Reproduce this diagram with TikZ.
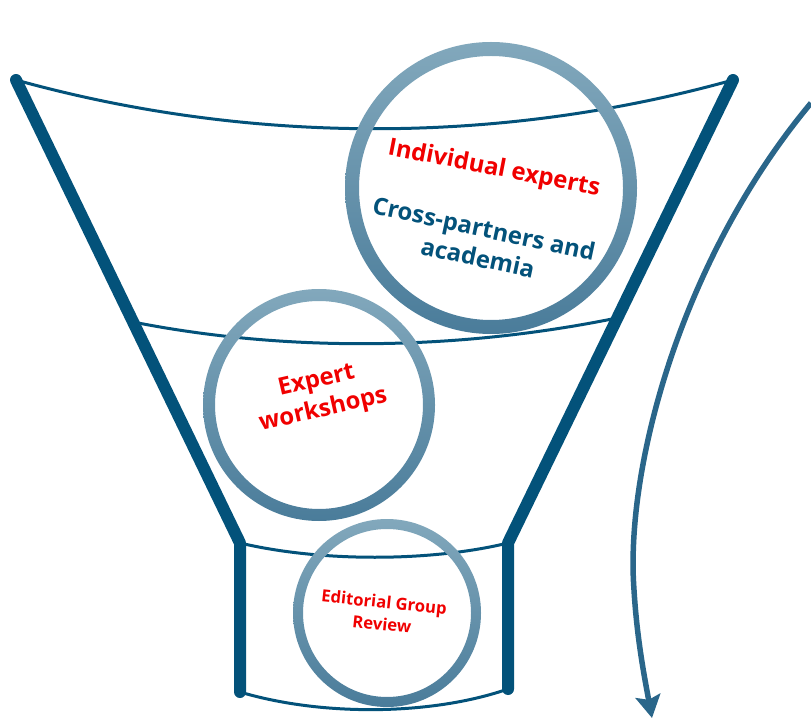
\documentclass[tikz,border=0pt]{standalone}
\usepackage{fontspec}
\setmainfont{Open Sans}
\usetikzlibrary{arrows.meta,positioning}
\definecolor{funnelblue}{HTML}{03527A}
\definecolor{ringtop}{HTML}{82A8BC}
\definecolor{ringbot}{HTML}{4A7C9A}
\definecolor{flowblue}{HTML}{2A668A}
\definecolor{stagered}{HTML}{F00000}

\begin{document}
\begin{tikzpicture}[x=0.02cm,y=-0.02cm,
wall/.style={draw=funnelblue,line width=0.24cm,line cap=round,line join=round},
rim/.style={draw=funnelblue,line width=0.06cm},
ring/.style={top color=ringtop,bottom color=ringbot,even odd rule},
stagetext/.style={font=\bfseries\fontsize{13.6}{17}\selectfont,align=center,inner sep=0pt},
flow/.style={draw=flowblue,line width=0.11cm,-{Stealth[length=0.45cm,width=0.5cm,inset=0.08cm]}}]
\useasboundingbox (0,0) rectangle (811,719);
% funnel outline
\coordinate (TL) at (16,80);
\coordinate (TR) at (733,80);
\coordinate (NL) at (240,543);
\coordinate (NR) at (508,543);
\coordinate (BL) at (240,692);
\coordinate (BR) at (508,689);
\coordinate (ML) at (133,322);
\coordinate (MR) at (617,318);
\draw[rim] (TL) .. controls (250,145) and (500,145) .. (TR);
\draw[rim] (ML) .. controls (290,353) and (460,350) .. (MR);
\draw[rim] (NL) .. controls (320,562) and (430,562) .. (NR);
\draw[rim] (BL) .. controls (320,716) and (430,716) .. (BR);
\draw[wall] (TL)--(NL)--(BL);
\draw[wall] (TR)--(NR)--(BR);
% stages
\coordinate (C1) at (491,188);
\coordinate (C2) at (319,405);
\coordinate (C3) at (387,613);
\path[ring] (C1) circle (146) (C1) circle (132);
\path[ring] (C2) circle (116) (C2) circle (104);
\path[ring] (C3) circle (94) (C3) circle (84);
\node[stagetext,text=stagered,rotate=-11] (indiv) at (494,169) {Individual experts};
\node[stagetext,text=funnelblue,rotate=-12] (cross) at (481,243) {Cross-partners and\\academia};
\node[stagetext,text=stagered,rotate=13] (work) at (320,396) {Expert\\workshops};
\node[stagetext,text=stagered,rotate=-6,font=\bfseries\fontsize{9.5}{12.5}\selectfont] (review) at (383,613) {Editorial Group\\Review};
% feedback arrow
\coordinate (fstart) at (811,103);
\coordinate (fmid) at (634,590);
\coordinate (fend) at (652,718);
\draw[flow] (fstart) .. controls (680,260) and (625,470) .. (fmid) .. controls (637,640) and (645,680) .. (fend);
\end{tikzpicture}
\end{document}
